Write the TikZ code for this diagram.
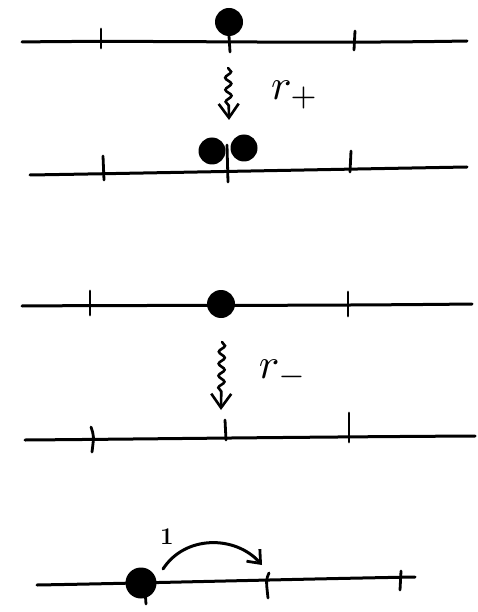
\documentclass[tikz,border=0pt]{standalone}
\usetikzlibrary{decorations.pathmorphing,arrows.meta}
\begin{document}
\begin{tikzpicture}[x=1pt,y=-1pt,
  axis/.style={line width=3pt,line cap=round},
  tick/.style={line width=2.8pt,line cap=round},
  dot/.style={circle,fill=black,inner sep=0pt,minimum size=28pt},
  wavy/.style={line width=2.6pt,line cap=round,decorate,decoration={snake,amplitude=3pt,segment length=12pt,post length=14pt},-{Straight Barb[length=14pt,width=20pt,line width=2.6pt]}},
  lab/.style={scale=4.3}]
\useasboundingbox (0,0) rectangle (477,612);
% line 1
\coordinate (a1) at (22,42); \coordinate (b1) at (467,41);
\draw[axis] (a1) .. controls (150,40) and (300,44) .. (b1);
\draw[tick] (101,29) -- (101,48);
\draw[tick] (355,31) -- (354,50);
\draw[tick] (229,36) -- (230,52);
\node[dot] (d1) at (229,22) {};
% arrow r+
\coordinate (w1s) at (228,68); \coordinate (w1e) at (229,120);
\draw[wavy] (w1s) -- (w1e);
\node[lab] (rp) at (295,95) {$r_{+}$};
% line 2
\coordinate (a2) at (30,175); \coordinate (b2) at (467,167);
\draw[axis] (a2) .. controls (150,173) and (300,170) .. (b2);
\draw[tick] (103,156) -- (104,180);
\draw[tick] (351,151) -- (350,172);
\draw[tick] (227,145) -- (228,182);
\node[dot,minimum size=27pt] (d2) at (212,151) {};
\node[dot,minimum size=27pt] (d3) at (244,148) {};
% line 3
\coordinate (a3) at (22,306); \coordinate (b3) at (472,304);
\draw[axis] (a3) .. controls (150,305) and (300,306) .. (b3);
\draw[tick] (90,291) -- (90,315);
\draw[tick] (348,292) -- (348,316);
\node[dot] (d4) at (221,304) {};
% arrow r-
\coordinate (w2s) at (222,342); \coordinate (w2e) at (221,410);
\draw[wavy] (w2s) -- (w2e);
\node[lab] (rm) at (283,374) {$r_{-}$};
% line 4
\coordinate (a4) at (25,440); \coordinate (b4) at (475,436);
\draw[axis] (a4) .. controls (150,439) and (300,437) .. (b4);
\draw[tick] (91,427) .. controls (94,436) .. (92,452);
\draw[tick] (225,420) -- (226,440);
\draw[tick] (349,413) -- (349,442);
% line 5
\coordinate (a5) at (37,585); \coordinate (b5) at (415,577);
\draw[axis] (a5) .. controls (150,583) and (300,579) .. (b5);
\draw[tick] (269,573) .. controls (266,580) .. (268,598);
\draw[tick] (401,571) -- (400,590);
\draw[tick] (145,590) -- (146,604);
\node[dot,minimum size=31pt] (d5) at (141,583) {};
% hop arrow
\coordinate (h1) at (163,569); \coordinate (h2) at (262,565);
\draw[line width=3pt,line cap=round,-{Straight Barb[length=11pt,width=18pt,line width=2.8pt]}] (h1) .. controls (185,535) and (235,535) .. (h2);
\node[font=\fontsize{24}{24}\selectfont\bfseries] (one) at (167,537) {1};
\end{tikzpicture}
\end{document}
